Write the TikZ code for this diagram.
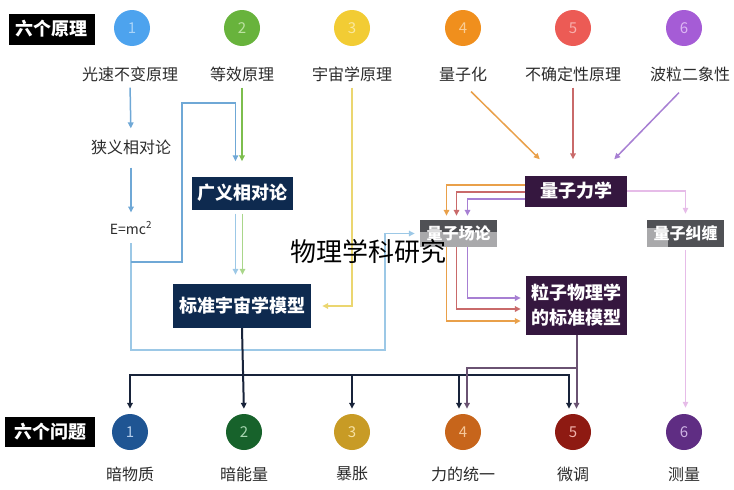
\documentclass[tikz,border=0pt]{standalone}
\usepackage{fontspec}
\setmainfont{Noto Sans CJK SC}
\usepackage{tikz}
\usetikzlibrary{arrows.meta, calc, positioning}

\definecolor{navybox}{HTML}{0E2A4F}
\definecolor{plumbox}{HTML}{35173F}
\definecolor{greybox}{HTML}{505155}
\definecolor{lgreybox}{HTML}{A9A9AB}
\definecolor{lnblue}{HTML}{6FA8D6}
\definecolor{lnlblue}{HTML}{9CC8E6}
\definecolor{lngreen}{HTML}{7DBE4E}
\definecolor{lnlgreen}{HTML}{A9D68A}
\definecolor{lnyellow}{HTML}{EBD670}
\definecolor{lnorange}{HTML}{E9A04A}
\definecolor{lnred}{HTML}{C96A6A}
\definecolor{lnpurple}{HTML}{A77FD3}
\definecolor{lnpink}{HTML}{E6BCE8}
\definecolor{lnnavy}{HTML}{18233A}
\definecolor{lnplum}{HTML}{6A5272}
\definecolor{txt}{HTML}{2B2B2B}
% 原理圆点
\definecolor{ca1}{HTML}{4DA3EE}\definecolor{ta1}{HTML}{A9D4F8}
\definecolor{ca2}{HTML}{68B33C}\definecolor{ta2}{HTML}{BDE3A2}
\definecolor{ca3}{HTML}{F2CC34}\definecolor{ta3}{HTML}{FAE89F}
\definecolor{ca4}{HTML}{F08F1D}\definecolor{ta4}{HTML}{F9CC95}
\definecolor{ca5}{HTML}{EC5B55}\definecolor{ta5}{HTML}{F8B0AD}
\definecolor{ca6}{HTML}{A55CD6}\definecolor{ta6}{HTML}{DDB8F3}
% 问题圆点
\definecolor{cb1}{HTML}{1F5593}\definecolor{tb1}{HTML}{B2CBE9}
\definecolor{cb2}{HTML}{17622B}\definecolor{tb2}{HTML}{A7D6B0}
\definecolor{cb3}{HTML}{C89B25}\definecolor{tb3}{HTML}{F6E0A2}
\definecolor{cb4}{HTML}{C7651B}\definecolor{tb4}{HTML}{F5C79A}
\definecolor{cb5}{HTML}{8E1A12}\definecolor{tb5}{HTML}{F2B2AC}
\definecolor{cb6}{HTML}{5F2D83}\definecolor{tb6}{HTML}{CFB4E4}

\begin{document}
\begin{tikzpicture}[x=1pt, y=-1pt,
    tag/.style={fill=black, text=white, font=\fontsize{18}{20}\selectfont\bfseries, minimum width=86pt, minimum height=31pt, inner sep=0pt},
    dot/.style={circle, minimum size=36pt, inner sep=0pt, font=\fontsize{15}{16}\selectfont},
    lbl/.style={font=\fontsize{16}{19}\selectfont, text=txt, inner sep=1pt},
    box/.style={text=white, font=\fontsize{18}{25}\selectfont\bfseries, inner sep=0pt, align=center},
    gbox/.style={box, fill=greybox, font=\fontsize{16}{18}\selectfont\bfseries, minimum width=77pt, minimum height=27pt},
    arr/.style={-{Triangle[length=6pt,width=5.5pt]}},
    ln/.style={line width=1.5pt},
    nv/.style={line width=2pt, lnnavy, arr, shorten >=5pt},
    pl/.style={line width=2pt, lnplum, arr, shorten >=5pt}]

        \useasboundingbox (0,0) rectangle (734,490);

        % 六个原理
        \node[tag] (tp) at (52,29) {六个原理};
        \foreach \i/\x in {1/132, 2/242, 3/352, 4/463, 5/573, 6/684}
            \node[dot, fill=ca\i, text=ta\i] (p\i) at (\x,28) {\i};
        \node[lbl] (l1) at (130,74) {光速不变原理};
        \node[lbl] (l2) at (242,74) {等效原理};
        \node[lbl] (l3) at (352,74) {宇宙学原理};
        \node[lbl] (l4) at (463,74) {量子化};
        \node[lbl] (l5) at (573,74) {不确定性原理};
        \node[lbl] (l6) at (690,74) {波粒二象性};

        % 相对论一侧
        \node[lbl] (sr) at (131,147) {狭义相对论};
        \node[lbl, font=\fontsize{14}{16}\selectfont] (emc) at (131,228) {E=mc\textsuperscript{2}};
        \node[box, fill=navybox, minimum width=101pt, minimum height=33pt] (gr) at (242.5,193) {广义相对论};
        \node[box, fill=navybox, minimum width=138pt, minimum height=44pt] (scm) at (242,306) {标准宇宙学模型};

        % 量子一侧
        \node[box, fill=plumbox, minimum width=102pt, minimum height=31pt] (qm) at (576,191) {量子力学};
        \node[gbox, path picture={\fill[lgreybox] (path picture bounding box.south west) rectangle ([yshift=2pt]path picture bounding box.east);}] (qft) at (458.5,233.5) {量子场论};
        \node[gbox, path picture={\fill[lgreybox] (path picture bounding box.south west) rectangle ([xshift=21pt,yshift=6pt]path picture bounding box.west);}] (qe) at (685.5,233.5) {量子纠缠};
        \node[box, fill=plumbox, minimum width=101pt, minimum height=59pt] (sm) at (576.5,305) {粒子物理学\\的标准模型};

        % 六个问题
        \node[tag, minimum width=90pt, minimum height=30pt] (tq) at (50,432) {六个问题};
        \foreach \i/\x in {1/130, 2/244, 3/352, 4/463, 5/573, 6/684}
            \node[dot, fill=cb\i, text=tb\i] (q\i) at (\x,432) {\i};
        \node[lbl] (a1) at (130,474) {暗物质};
        \node[lbl] (a2) at (244,474) {暗能量};
        \node[lbl] (a3) at (352,474) {暴胀};
        \node[lbl] (a4) at (463,474) {力的统一};
        \node[lbl] (a5) at (573,474) {微调};
        \node[lbl] (a6) at (684,474) {测量};

        % 相对论连线
        \draw[ln, lnblue, arr, shorten <=5pt, shorten >=10pt] (l1.south) -- (sr.north);
        \draw[ln, lnblue, arr, shorten <=12pt, shorten >=8pt] (sr.south) -- (emc.north);
        \draw[ln, lnlblue, arr, shorten <=8pt, shorten >=5pt] (emc.south) |- (385,350) |- (qft.west);
        \draw[ln, lnblue, arr, shorten >=15pt] (emc.south |- 0,262) -| (182,103) -| ([xshift=-7pt]gr.north);
        \draw[ln, lngreen, arr, shorten <=5pt, shorten >=15pt] (l2.south) -- (l2.south |- gr.north);
        \draw[ln, lnlblue, arr, shorten <=4pt, shorten >=9pt] ([xshift=-7pt]gr.south) -- ([xshift=-7pt]gr.south |- scm.north);
        \draw[ln, lnlgreen, arr, shorten <=4pt, shorten >=9pt] (gr.south) -- (gr.south |- scm.north);
        \draw[ln, lnyellow, arr, shorten <=5pt, shorten >=11pt] (l3.south) |- (scm.east);

        % 量子连线
        \draw[ln, lnorange, arr] ($(l4.south)+(8,9)$) -- ($(qm.north west)+(15,-16)$);
        \draw[ln, lnred, arr, shorten <=5pt, shorten >=16pt] (l5.south) -- (l5.south |- qm.north);
        \draw[ln, lnpurple, arr] ($(l6.south)+(-11,10)$) -- ($(qm.north east)+(-13,-16)$);
        \draw[ln, lnorange, arr, shorten >=4pt] ($(qm.west)+(0,-6)$) -| ($(qft.north)+(-12,0)$);
        \draw[ln, lnred, arr, shorten >=4pt] ($(qm.west)+(0,1)$) -| ($(qft.north)+(-2,0)$);
        \draw[ln, lnpurple, arr, shorten >=4pt] ($(qm.west)+(0,8)$) -| ($(qft.north)+(9,0)$);
        \draw[ln, lnorange, arr, shorten >=5pt] ($(qft.south)+(-12,0)$) |- ($(sm.west)+(0,16)$);
        \draw[ln, lnred, arr, shorten >=5pt] ($(qft.south)+(-2,0)$) |- ($(sm.west)+(0,4)$);
        \draw[ln, lnpurple, arr, shorten >=5pt] ($(qft.south)+(9,0)$) |- ($(sm.west)+(0,-7)$);
        \draw[line width=1.2pt, lnpink, arr, shorten >=6pt] (qm.east) -| (qe.north);
        \draw[line width=1.2pt, lnpink, arr, shorten <=3pt, shorten >=6pt] (qe.south) -- (qe.south |- q6.north);

        % 通向六个问题
        \draw[nv] (scm.south) -- (q2.north);
        \draw[nv] (scm.south |- 0,375) -| (q1.north);
        \draw[nv] (scm.south |- 0,375) -| (q3.north);
        \draw[nv] (scm.south |- 0,375) -| ([xshift=-4pt]q4.north);
        \draw[nv] (scm.south |- 0,375) -| ([xshift=-4pt]q5.north);
        \draw[pl] (sm.south) -- (sm.south |- q5.north);
        \draw[pl] (sm.south |- 0,368) -| ([xshift=4pt]q4.north);

        % 标题
        \node[font=\fontsize{26}{28}\selectfont] (title) at (368,252) {物理学科研究};

\end{tikzpicture}
\end{document}
